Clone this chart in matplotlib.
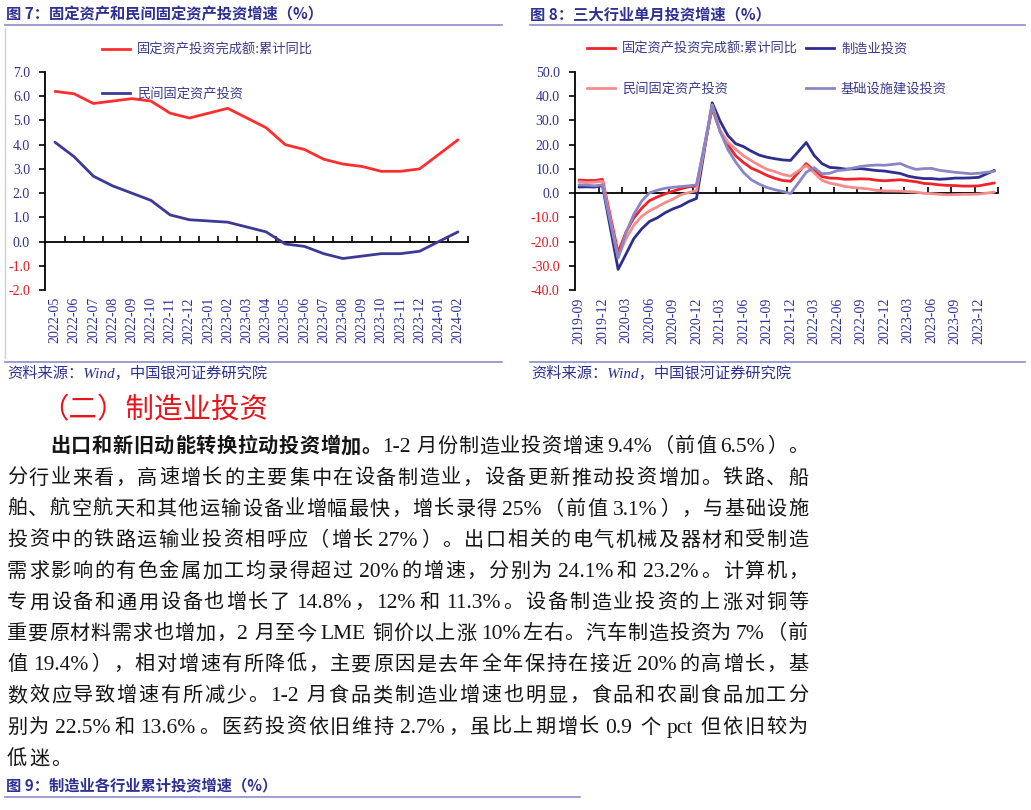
import numpy as np
import pandas as pd
import matplotlib
matplotlib.use('Agg')
import matplotlib.pyplot as plt
from matplotlib.lines import Line2D
from matplotlib.ticker import FixedLocator, FixedFormatter, NullFormatter

# ---------------- data ----------------
months7 = list(pd.period_range('2022-05', '2024-02', freq='M').strftime('%Y-%m'))
fai7 = [6.2, 6.1, 5.7, 5.8, 5.9, 5.8, 5.3, 5.1, None, 5.5, 5.1, 4.7, 4.0, 3.8,
        3.4, 3.2, 3.1, 2.9, 2.9, 3.0, None, 4.2]
private7 = [4.1, 3.5, 2.7, 2.3, 2.0, 1.7, 1.1, 0.9, None, 0.8, 0.6, 0.4, -0.1, -0.2,
            -0.5, -0.7, -0.6, -0.5, -0.5, -0.4, None, 0.4]
yticks7 = [-2.0, -1.0, 0.0, 1.0, 2.0, 3.0, 4.0, 5.0, 6.0, 7.0]

months8 = list(pd.period_range('2019-09', '2024-02', freq='M').strftime('%Y-%m'))
fai8 = [5.4, 5.2, 5.2, 5.7, None,
        -24.5, -16.1, -10.3, -6.3, -3.1, -1.6, -0.3, 0.8, 1.8, 2.6, 2.9, None,
        35.0, 25.6, 19.9, 15.4, 12.6, 10.3, 8.9, 7.3, 6.1, 5.2, 4.9, None,
        12.2, 9.3, 6.8, 6.2, 6.1, 5.7, 5.8, 5.9, 5.8, 5.3, 5.1, None,
        5.5, 5.1, 4.7, 4.0, 3.8, 3.4, 3.2, 3.1, 2.9, 2.9, 3.0, None, 4.2]
mfg8 = [2.5, 2.6, 2.5, 3.1, None,
        -31.5, -25.2, -18.8, -14.8, -11.7, -10.2, -8.1, -6.5, -5.3, -3.5, -2.2, None,
        37.3, 29.8, 23.8, 20.4, 19.2, 17.3, 15.7, 14.8, 14.2, 13.7, 13.5, None,
        20.9, 15.6, 12.2, 10.6, 10.4, 9.9, 10.0, 10.1, 9.7, 9.3, 9.1, None,
        8.1, 7.0, 6.4, 6.0, 6.0, 5.7, 5.9, 6.2, 6.2, 6.3, 6.5, None, 9.4]
private8 = [4.7, 4.4, 4.5, 4.9, None,
            -26.4, -18.8, -13.3, -9.6, -7.3, -5.7, -3.9, -2.5, -0.7, 0.2, 1.0, None,
            36.4, 26.0, 21.0, 18.1, 15.4, 13.4, 11.5, 9.8, 8.9, 7.7, 7.0, None,
            11.4, 8.4, 5.3, 4.1, 3.5, 2.7, 2.3, 2.0, 1.7, 1.1, 0.9, None,
            0.8, 0.6, 0.4, -0.1, -0.2, -0.5, -0.7, -0.6, -0.5, -0.5, -0.4, None, 0.4]
infra8 = [3.4, 3.3, 3.0, 3.4, None,
          -26.9, -16.4, -8.8, -3.3, 0.1, 1.2, 2.0, 2.4, 2.7, 3.0, 3.4, None,
          36.0, 25.5, 18.0, 12.8, 8.5, 5.5, 3.7, 2.3, 1.4, 0.7, -0.2, None,
          8.6, 10.5, 8.0, 8.2, 9.3, 9.6, 10.4, 11.0, 11.4, 11.6, 11.5, None,
          12.2, 10.8, 9.8, 10.1, 10.2, 9.4, 9.0, 8.6, 8.3, 8.0, 8.2, None, 9.0]
yticks8 = [-40.0, -30.0, -20.0, -10.0, 0.0, 10.0, 20.0, 30.0, 40.0, 50.0]

legend7 = ['固定资产投资完成额:累计同比', '民间固定资产投资']
legend8 = ['固定资产投资完成额:累计同比', '制造业投资', '民间固定资产投资', '基础设施建设投资']

title7 = '图 7：固定资产和民间固定资产投资增速（%）'
title8 = '图 8：三大行业单月投资增速（%）'
title9 = '图 9：制造业各行业累计投资增速（%）'
source = '资料来源：Wind，中国银河证券研究院'
heading = '（二）制造业投资'
body_bold = '出口和新旧动能转换拉动投资增加。'
body_lines = [
    '1-2 月份制造业投资增速 9.4%（前值 6.5%）。',
    '分行业来看，高速增长的主要集中在设备制造业，设备更新推动投资增加。铁路、船',
    '舶、航空航天和其他运输设备业增幅最快，增长录得 25%（前值 3.1%），与基础设施',
    '投资中的铁路运输业投资相呼应（增长 27%）。出口相关的电气机械及器材和受制造',
    '需求影响的有色金属加工均录得超过 20%的增速，分别为 24.1%和 23.2%。计算机，',
    '专用设备和通用设备也增长了 14.8%，12%和 11.3%。设备制造业投资的上涨对铜等',
    '重要原材料需求也增加，2 月至今 LME 铜价以上涨 10%左右。汽车制造投资为 7%（前',
    '值 19.4%），相对增速有所降低，主要原因是去年全年保持在接近 20%的高增长，基',
    '数效应导致增速有所减少。1-2 月食品类制造业增速也明显，食品和农副食品加工分',
    '别为 22.5%和 13.6%。医药投资依旧维持 2.7%，虽比上期增长 0.9 个 pct 但依旧较为',
    '低迷。',
]

# ---------------- style ----------------
CJK = 'Noto Sans CJK SC'
SERIF = 'Liberation Serif'
plt.rcParams['font.family'] = [SERIF, CJK]
NAVY = '#2E3192'
RED = '#E8141B'
RULE = '#8C8CC8'

W, H = 1031, 810
fig = plt.figure(figsize=(W / 100, H / 100), dpi=100)
fig.patch.set_facecolor('white')


def fx(p):
    return p / W


def fy(p):
    return 1 - p / H


def hline(x0, x1, y, color=RULE, lw=1.2):
    fig.add_artist(Line2D([fx(x0), fx(x1)], [fy(y), fy(y)], transform=fig.transFigure,
                          color=color, lw=lw))


def vline(x, y0, y1, color='#CFCFCF', lw=1.0):
    fig.add_artist(Line2D([fx(x), fx(x)], [fy(y0), fy(y1)], transform=fig.transFigure,
                          color=color, lw=lw))


def plot_series(ax, vals, color, lw=1.9):
    y = np.array([np.nan if v is None else v for v in vals], dtype=float)
    x = np.arange(len(y))
    m = ~np.isnan(y)
    ax.plot(x[m], y[m], color=color, lw=lw, solid_joinstyle='round',
            solid_capstyle='round', zorder=3)


def style_axes(ax, labels, step, yticks, label_pad):
    n = len(labels)
    ax.set_xlim(-0.5, n - 0.5)
    ax.set_ylim(yticks[0], yticks[-1])
    for s in ('top', 'right'):
        ax.spines[s].set_visible(False)
    ax.spines['bottom'].set_position(('data', 0))
    ax.spines['bottom'].set_linewidth(1.3)
    ax.spines['left'].set_linewidth(1.3)
    ax.patch.set_alpha(0)
    ax.xaxis.set_major_locator(FixedLocator(np.arange(step - 0.5, n, step)))
    ax.xaxis.set_major_formatter(NullFormatter())
    ax.tick_params(axis='x', which='major', direction='in', length=4, width=1.2)
    lab_pos = np.arange(0, n, step)
    ax.xaxis.set_minor_locator(FixedLocator(lab_pos))
    ax.xaxis.set_minor_formatter(FixedFormatter([labels[i] for i in lab_pos]))
    ax.tick_params(axis='x', which='minor', length=0, pad=label_pad, labelrotation=90,
                   labelsize=10, labelcolor=NAVY)
    ax.set_yticks(yticks)
    ax.set_yticklabels(['%.1f' % v for v in yticks])
    ax.tick_params(axis='y', direction='out', length=4, width=1.2, pad=7, labelsize=10)
    for v, lab in zip(yticks, ax.get_yticklabels()):
        lab.set_color(RED if v < 0 else NAVY)


def legend_entry(color, text, x0, y, lw=2.0):
    h = Line2D([], [], color=color, lw=lw)
    lg = fig.legend([h], [text], loc='center left', bbox_to_anchor=(fx(x0), fy(y)),
                    bbox_transform=fig.transFigure, frameon=False, borderpad=0,
                    borderaxespad=0, handlelength=2.1, handletextpad=0.55,
                    prop={'family': [CJK], 'size': 9.5})
    for t in lg.get_texts():
        t.set_color('#3A3A8A')


# ---------------- chart 7 ----------------
C7_RED = '#FF2E2E'
C7_NAVY = '#3C3A94'
ax1 = fig.add_axes([fx(45.4), fy(290), fx(467.6 - 45.4), (290 - 72) / H])
plot_series(ax1, fai7, C7_RED, lw=2.0)
plot_series(ax1, private7, C7_NAVY, lw=2.0)
style_axes(ax1, months7, 1, yticks7, label_pad=40)
legend_entry(C7_RED, legend7[0], 102, 50)
legend_entry(C7_NAVY, legend7[1], 102, 94)

# ---------------- chart 8 ----------------
C8 = ['#F0232A', '#2E2E8C', '#F58C8C', '#8A86C6']
ax2 = fig.add_axes([fx(575), fy(290), fx(998.3 - 575), (290 - 72) / H])
for vals, c in zip([fai8, mfg8, private8, infra8], C8):
    plot_series(ax2, vals, c, lw=2.0)
style_axes(ax2, months8, 3, yticks8, label_pad=75)
legend_entry(C8[0], legend8[0], 587, 49)
legend_entry(C8[1], legend8[1], 806, 49)
legend_entry(C8[2], legend8[2], 587, 89)
legend_entry(C8[3], legend8[3], 806, 89)

# ---------------- page furniture ----------------
fig.text(fx(6), fy(14), title7, fontsize=11, fontweight='bold', color=NAVY,
         family=[CJK], va='center')
fig.text(fx(530), fy(14), title8, fontsize=11, fontweight='bold', color=NAVY,
         family=[CJK], va='center')
hline(5, 502, 25)
hline(530, 1025, 25)
vline(5, 28, 358)
hline(5, 502, 362)
hline(530, 1025, 362)
fig.text(fx(7), fy(373), source, fontsize=11, color=NAVY, style='italic',
         family=[SERIF, CJK], va='center')
fig.text(fx(531), fy(373), source, fontsize=11, color=NAVY, style='italic',
         family=[SERIF, CJK], va='center')

fig.text(fx(40), fy(410), heading, fontsize=20.5, color=RED, family=[CJK], va='center')

fig.text(fx(6), fy(785), title9, fontsize=11, fontweight='bold', color=NAVY,
         family=[CJK], va='center')
hline(5, 580, 797)

# ---------------- justified body text ----------------
renderer = fig.canvas.get_renderer()


def tokenize(segs):
    toks = []
    for text, bold in segs:
        buf = ''
        for c in text:
            if c == ' ':
                if buf:
                    toks.append((buf, bold, 'a'))
                    buf = ''
                toks.append((' ', bold, 's'))
            elif ord(c) < 128:
                buf += c
            else:
                if buf:
                    toks.append((buf, bold, 'a'))
                    buf = ''
                toks.append((c, bold, 'c'))
        if buf:
            toks.append((buf, bold, 'a'))
    return toks


def body_line(yc, segs, x0, x1=808, justify=True, fs=14.5, fs_ascii=15.5):
    em = fs * 100 / 72
    yb = yc + 0.36 * em
    items = []
    for tok, bold, kind in tokenize(segs):
        if kind == 's':
            items.append((None, 0.15 * em, kind))
            continue
        if kind == 'a':
            t = fig.text(0, fy(yb), tok, fontsize=fs_ascii, family=[SERIF, CJK],
                         fontweight='bold' if bold else 'normal', color='#151515',
                         va='baseline', ha='left')
            w = t.get_window_extent(renderer).width + 1.5
        else:
            t = fig.text(0, fy(yb), tok, fontsize=fs, family=[CJK],
                         fontweight='bold' if bold else 'normal', color='#151515',
                         va='baseline', ha='center')
            w = em
        items.append((t, w, kind))
    total = sum(w for _, w, _ in items)
    gap = (x1 - x0 - total) / max(len(items) - 1, 1) if justify else 2
    x = x0
    for t, w, kind in items:
        if t is not None:
            t.set_x(fx(x + (w / 2 if kind == 'c' else 0)))
        x += w + gap


line_y = [445, 476.5, 507.7, 538.5, 570, 601, 632, 663, 694, 725.5, 757.5]
body_line(line_y[0], [(body_bold, True), (body_lines[0], False)], 50)
for yc, txt in zip(line_y[1:-1], body_lines[1:-1]):
    body_line(yc, [(txt, False)], 7)
body_line(line_y[-1], [(body_lines[-1], False)], 7, justify=False)

fig.savefig('out.png', dpi=100, facecolor='white')
